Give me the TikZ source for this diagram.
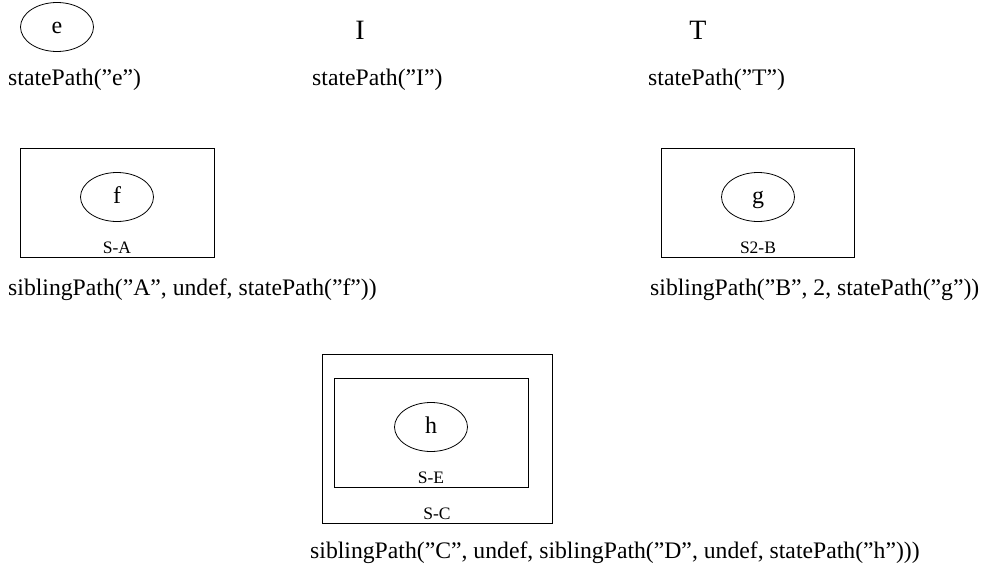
\documentclass[tikz,border=0pt]{standalone}
\usepackage{fontspec}
\setmainfont{Liberation Serif}
\usetikzlibrary{shapes.geometric}
\tikzset{
  statenode/.style={draw, ellipse, line width=0.8pt, minimum width=73pt, minimum height=49pt, inner sep=0pt, text height=12pt, text depth=0pt, font=\fontsize{24}{24}\selectfont},
  pseudonode/.style={inner sep=0pt, font=\fontsize{28}{28}\selectfont},
  boxframe/.style={draw, line width=0.8pt},
  boxname/.style={inner sep=0pt, anchor=base, font=\fontsize{17.5}{17.5}\selectfont},
  pathterm/.style={inner sep=0pt, anchor=base west, font=\fontsize{23.7}{23.7}\selectfont},
}
\begin{document}
\begin{tikzpicture}[x=1pt, y=-1pt]
\useasboundingbox (0,0) rectangle (985,570);

% plain states
\node[statenode] (e) at (57,27) {e};
\node[pseudonode, anchor=base] (I) at (360,39) {I};
\node[pseudonode, anchor=base] (T) at (698,39) {T};
\node[pathterm] (pe) at (8,85) {statePath(”e”)};
\node[pathterm] (pI) at (312,85) {statePath(”I”)};
\node[pathterm] (pT) at (648,85) {statePath(”T”)};

% sibling A
\node[boxframe, minimum width=194pt, minimum height=109pt, inner sep=0pt] (SA) at (117,202.5) {};
\node[statenode] (f) at (117,197) {f};
\node[boxname] (SAl) at (117,253) {S-A};
\node[pathterm] (pA) at (8,295) {siblingPath(”A”, undef, statePath(”f”))};

% sibling B
\node[boxframe, minimum width=193pt, minimum height=109pt, inner sep=0pt] (SB) at (757.5,202.5) {};
\node[statenode] (g) at (758,197) {g};
\node[boxname] (SBl) at (758,253) {S2-B};
\node[pathterm] (pB) at (650,295) {siblingPath(”B”, 2, statePath(”g”))};

% nested siblings C and E
\node[boxframe, minimum width=230pt, minimum height=169pt, inner sep=0pt] (SC) at (437,438.5) {};
\node[boxframe, minimum width=194pt, minimum height=109pt, inner sep=0pt] (SE) at (431,432.5) {};
\node[statenode] (h) at (431,427) {h};
\node[boxname] (SEl) at (431,483) {S-E};
\node[boxname] (SCl) at (437,519) {S-C};
\node[pathterm] (pC) at (310,558) {siblingPath(”C”, undef, siblingPath(”D”, undef, statePath(”h”)))};
\end{tikzpicture}
\end{document}
